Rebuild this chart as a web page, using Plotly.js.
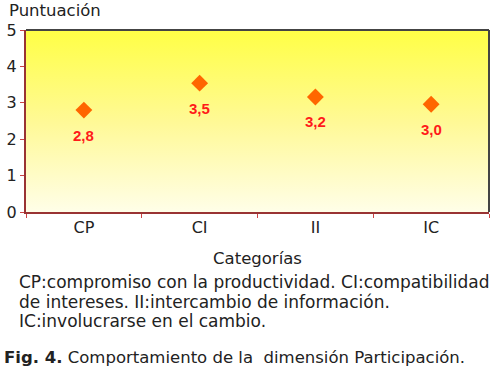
<!DOCTYPE html>
<html>
<head>
<meta charset="utf-8">
<script src="https://cdn.plot.ly/plotly-3.0.1.min.js"></script>
<style>html,body{margin:0;padding:0;background:#fff;}#chart{width:500px;height:370px;}</style>
</head>
<body>
<div id="chart"></div>
<script>
const categories = ["CP", "CI", "II", "IC"];
const scores = [2.8, 3.54, 3.16, 2.96];
const scoreLabels = ["2,8", "3,5", "3,2", "3,0"];
const yTicks = [0, 1, 2, 3, 4, 5];
const xTitle = "Categorías";
const yTitle = "Puntuación";
const captionLines = [
  "CP:compromiso con la productividad. CI:compatibilidad",
  "de intereses. II:intercambio de información.",
  "IC:involucrarse en el cambio."
];
const figLabel = "Fig. 4.";
const figText = "Comportamiento de la&nbsp; dimensión Participación.";

const FONT = "DejaVu Sans, Verdana, sans-serif";
const idx = categories.map((c, i) => i);
const xMin = -0.5, xMax = categories.length - 0.5;
const yMin = yTicks[0], yMax = yTicks[yTicks.length - 1];

const bg = {
  x: [xMin, xMax, xMax, xMin, xMin],
  y: [yMin, yMin, yMax, yMax, yMin],
  mode: "lines",
  fill: "toself",
  line: {width: 0},
  fillgradient: {
    type: "vertical",
    colorscale: [[0, "#FFFEE8"], [0.5, "#FFF995"], [1, "#FFFF45"]]
  },
  hoverinfo: "skip",
  showlegend: false
};

const pts = {
  x: idx,
  y: scores,
  mode: "markers",
  marker: {symbol: "diamond", size: 13, color: "#FF6600"},
  showlegend: false
};

const annotations = scores.map((v, i) => ({
  x: idx[i], y: v, xref: "x", yref: "y",
  text: scoreLabels[i], showarrow: false,
  yshift: -25,
  font: {family: "Liberation Sans, Arial, sans-serif", size: 15, color: "#FF1A1A", weight: "bold"}
}));
annotations.push({
  xref: "paper", yref: "paper", x: 0, y: 1, xanchor: "left", yanchor: "top",
  xshift: -18, yshift: 30, borderpad: 0, text: yTitle, showarrow: false,
  font: {family: FONT, size: 16.5, color: "#222"}
});
const captionY = [282, 301.5, 321];
captionLines.forEach((line, i) => {
  annotations.push({
    xref: "paper", yref: "paper", x: 0, y: 0, xanchor: "left", yanchor: "middle",
    xshift: -9, yshift: 212 - captionY[i], text: line, showarrow: false,
    font: {family: FONT, size: 17, color: "#222"}
  });
});
annotations.push({
  xref: "paper", yref: "paper", x: 0, y: 0, xanchor: "left", yanchor: "middle",
  xshift: -24, yshift: -145, text: "<b>" + figLabel + "</b> " + figText, showarrow: false,
  font: {family: FONT, size: 16.5, color: "#222"}
});

const layout = {
  width: 500, height: 370,
  margin: {l: 26, r: 11, t: 30, b: 158},
  paper_bgcolor: "#ffffff",
  plot_bgcolor: "#ffffff",
  font: {family: FONT, size: 16, color: "#222"},
  xaxis: {
    range: [xMin, xMax],
    tickvals: idx, ticktext: categories,
    ticks: "", showgrid: false, zeroline: false,
    showline: true, linecolor: "#993333", linewidth: 2,
    tickfont: {family: FONT, size: 16, color: "#222"},
    minor: {tick0: 0.5, dtick: 1, ticks: "outside", ticklen: 4, tickcolor: "#cc4444", tickwidth: 1, showgrid: false},
    title: {text: xTitle, standoff: 16, font: {family: FONT, size: 16.5, color: "#222"}},
    fixedrange: true
  },
  yaxis: {
    range: [yMin, yMax],
    tickvals: yTicks,
    ticks: "outside", ticklen: 4, tickcolor: "#cc4444",
    tickfont: {family: FONT, size: 16, color: "#222"},
    showgrid: true, gridcolor: "#3a3a2a", gridwidth: 1.5,
    zeroline: false,
    showline: true, linecolor: "#993333", linewidth: 2,
    fixedrange: true
  },
  shapes: [
    {type: "line", xref: "paper", yref: "paper", x0: 0, x1: 1, y0: 1, y1: 1, line: {color: "#444", width: 2}, layer: "above"},
    {type: "line", xref: "paper", yref: "paper", x0: 1, x1: 1, y0: 0, y1: 1, line: {color: "#444", width: 2}, layer: "above"}
  ],
  annotations: annotations,
  showlegend: false
};

Plotly.newPlot("chart", [bg, pts], layout, {displayModeBar: false, staticPlot: true});
</script>
</body>
</html>
